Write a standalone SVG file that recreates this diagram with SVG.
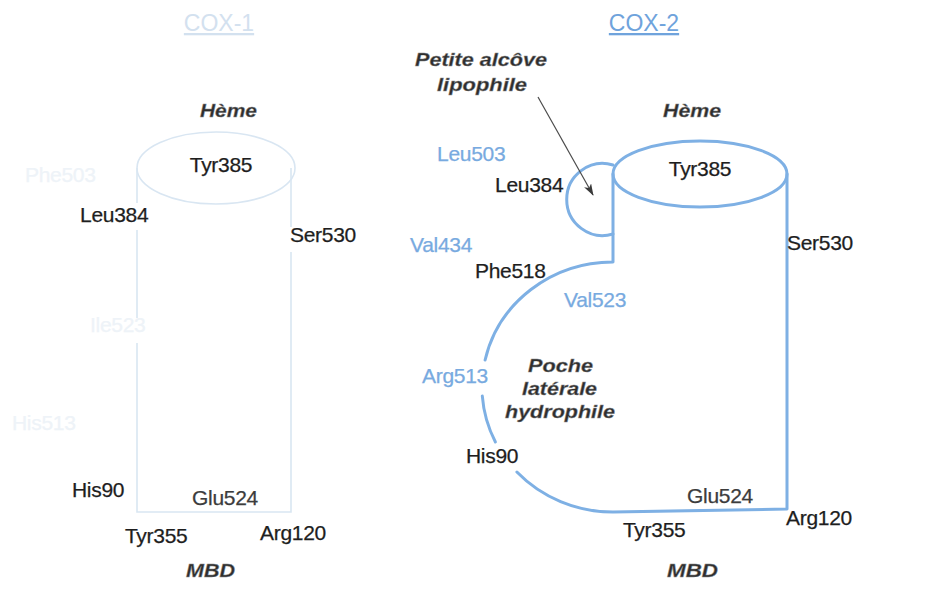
<svg xmlns="http://www.w3.org/2000/svg" width="948" height="591" viewBox="0 0 948 591">
<style>
  .res{font-family:"Liberation Sans",Arial,sans-serif;font-size:21px;fill:#1e1e1e;stroke:#1e1e1e;stroke-width:0.25px;letter-spacing:-0.3px}
  .blue{fill:#78aae0;stroke:#78aae0}
  .faint{fill:#eef3f8;stroke:#eef3f8}
  .grey{fill:#3c3c3c;stroke:#3c3c3c}
  .bi{font-family:"Liberation Sans",Arial,sans-serif;font-size:18px;font-weight:bold;font-style:italic;fill:#2e2e2e;stroke:#8a8a8a;stroke-width:0.4px}
  .title{font-family:"Liberation Sans",Arial,sans-serif;font-size:23px;text-decoration:underline}
  .c1{fill:none;stroke:#d9e6f2;stroke-width:1.6}
  .c2{fill:none;stroke:#7eb0e4;stroke-width:3;stroke-linecap:round;stroke-linejoin:round}
  .conn{fill:none;stroke:#4a4a4a;stroke-width:1.2}
</style>
<defs>
  <marker id="arr" viewBox="0 0 12 8" refX="11" refY="4" markerWidth="12" markerHeight="8" markerUnits="userSpaceOnUse" orient="auto">
    <path d="M0,0 L12,4 L0,8 L3,4 Z" fill="#3a3a3a"/>
  </marker>
</defs>
<rect width="948" height="591" fill="#ffffff"/>

<!-- COX-1 -->
<g id="cox1-title"><text class="title" x="219" y="31" text-anchor="middle" fill="#d3e1ef">COX-1</text></g>
<g id="cox1-body">
  <ellipse class="c1" cx="216" cy="168" rx="79" ry="36"/>
  <path class="c1" d="M137,168 L137,203 M137,230 L137,318 M137,343 L137,512 L291,512 L291,252 M291,227 L291,168"/>
</g>
<g id="cox1-labels">
  <text class="bi" x="200" y="117" textLength="57" lengthAdjust="spacingAndGlyphs">Hème</text>
  <text class="res" x="221" y="172" text-anchor="middle">Tyr385</text>
  <text class="res faint" x="25" y="182">Phe503</text>
  <text class="res" x="80" y="222">Leu384</text>
  <text class="res" x="290" y="242">Ser530</text>
  <text class="res faint" x="90" y="332">Ile523</text>
  <text class="res faint" x="12" y="430">His513</text>
  <text class="res" x="72" y="497">His90</text>
  <text class="res grey" x="192" y="505">Glu524</text>
  <text class="res" x="125" y="543">Tyr355</text>
  <text class="res" x="260" y="540">Arg120</text>
  <text class="bi" x="186" y="577" textLength="49" lengthAdjust="spacingAndGlyphs">MBD</text>
</g>

<!-- COX-2 -->
<g id="cox2-title"><text class="title" x="644" y="31" text-anchor="middle" fill="#6fa3dc">COX-2</text></g>
<g id="cox2-body">
  <ellipse class="c2" cx="700" cy="174" rx="87" ry="33"/>
  <path class="c2" d="M613,165 A36,36 0 1 0 613,234"/>
  <path class="c2" d="M613,174 L613,262 A131,125 0 0 0 485.1,360"/>
  <path class="c2" d="M482.3,396 A131,125 0 0 0 495.4,442"/>
  <path class="c2" d="M516.9,472 A131,125 0 0 0 613,512 L787,509 L787,174"/>
</g>
<g id="cox2-labels">
  <text class="bi" x="415" y="66" textLength="132" lengthAdjust="spacingAndGlyphs">Petite alcôve</text>
  <text class="bi" x="437" y="91" textLength="90" lengthAdjust="spacingAndGlyphs">lipophile</text>
  <text class="bi" x="663" y="117" textLength="58" lengthAdjust="spacingAndGlyphs">Hème</text>
  <text class="res blue" x="437" y="161">Leu503</text>
  <text class="res" x="495" y="192">Leu384</text>
  <text class="res" x="700" y="176" text-anchor="middle">Tyr385</text>
  <text class="res" x="787" y="250">Ser530</text>
  <text class="res blue" x="410" y="252">Val434</text>
  <text class="res" x="475" y="278">Phe518</text>
  <text class="res blue" x="564" y="307">Val523</text>
  <text class="bi" x="528" y="372" textLength="65" lengthAdjust="spacingAndGlyphs">Poche</text>
  <text class="bi" x="522" y="395" textLength="75" lengthAdjust="spacingAndGlyphs">latérale</text>
  <text class="bi" x="505" y="418" textLength="110" lengthAdjust="spacingAndGlyphs">hydrophile</text>
  <text class="res blue" x="422" y="383">Arg513</text>
  <text class="res" x="466" y="463">His90</text>
  <text class="res grey" x="687" y="503">Glu524</text>
  <text class="res" x="786" y="525">Arg120</text>
  <text class="res" x="623" y="537">Tyr355</text>
  <text class="bi" x="667" y="577" textLength="51" lengthAdjust="spacingAndGlyphs">MBD</text>
</g>

<g id="connectors">
  <line class="conn" x1="538" y1="97" x2="593" y2="195" marker-end="url(#arr)"/>
</g>
</svg>
